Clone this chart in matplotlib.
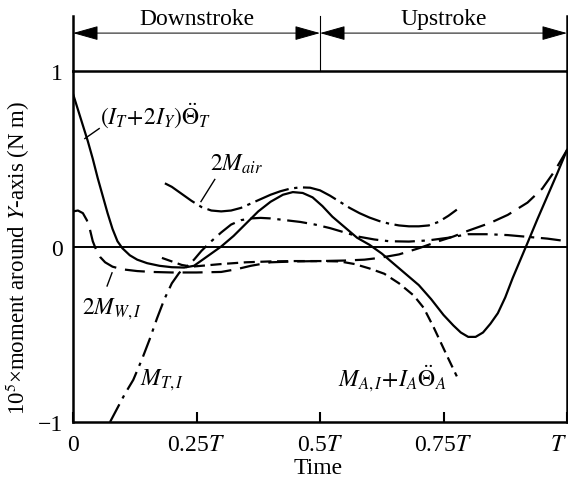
import matplotlib
matplotlib.use("Agg")
import matplotlib.pyplot as plt
from matplotlib.patches import ArrowStyle

plt.rcParams["font.family"] = ["Liberation Serif", "DejaVu Serif"]
plt.rcParams["mathtext.fontset"] = "stix"
plt.rcParams["font.size"] = 17

# Time as a fraction of the stroke period T, moments scaled by 1e5 (N m)
t_total = [0.000, 0.010, 0.020, 0.030, 0.040, 0.050, 0.060, 0.070, 0.080, 0.090,
           0.100, 0.115, 0.130, 0.150, 0.175, 0.200, 0.225, 0.245, 0.265, 0.285,
           0.300, 0.325, 0.350, 0.375, 0.400, 0.425, 0.445, 0.465, 0.485, 0.505,
           0.525, 0.550, 0.575, 0.600, 0.625, 0.650, 0.675, 0.700, 0.725, 0.750,
           0.770, 0.785, 0.800, 0.815, 0.830, 0.845, 0.860, 0.875, 0.890, 0.905,
           0.920, 0.940, 0.960, 0.980, 1.000]
m_total = [0.87, 0.78, 0.69, 0.60, 0.50, 0.39, 0.29, 0.19, 0.10, 0.03,
           -0.01, -0.05, -0.075, -0.095, -0.11, -0.118, -0.12, -0.11, -0.07, -0.03,
           0.00, 0.06, 0.13, 0.20, 0.255, 0.295, 0.31, 0.305, 0.28, 0.23,
           0.17, 0.11, 0.05, 0.01, -0.04, -0.10, -0.16, -0.22, -0.30, -0.39,
           -0.45, -0.49, -0.515, -0.515, -0.49, -0.44, -0.38, -0.29, -0.18, -0.08,
           0.02, 0.155, 0.285, 0.415, 0.55]

t_air = [0.186, 0.20, 0.22, 0.24, 0.26, 0.28, 0.30, 0.32, 0.34, 0.36,
         0.38, 0.40, 0.42, 0.44, 0.46, 0.48, 0.50, 0.52, 0.54, 0.56,
         0.58, 0.60, 0.62, 0.64, 0.66, 0.68, 0.70, 0.72, 0.74, 0.76, 0.777]
m_air = [0.36, 0.34, 0.30, 0.26, 0.225, 0.205, 0.20, 0.205, 0.22, 0.245,
         0.27, 0.295, 0.315, 0.33, 0.337, 0.335, 0.32, 0.29, 0.255, 0.22,
         0.19, 0.165, 0.145, 0.13, 0.12, 0.115, 0.115, 0.12, 0.14, 0.175, 0.21]

t_thorax = [0.075, 0.09, 0.105, 0.122, 0.14, 0.155, 0.17, 0.185, 0.20, 0.215,
            0.23, 0.245, 0.26, 0.28, 0.30, 0.32, 0.34, 0.36, 0.38, 0.40,
            0.43, 0.46, 0.49, 0.52, 0.55, 0.58, 0.61, 0.64, 0.68, 0.72,
            0.76, 0.80, 0.84, 0.88, 0.92, 0.96, 1.00]
m_thorax = [-1.0, -0.92, -0.84, -0.76, -0.64, -0.53, -0.41, -0.30, -0.21, -0.15,
            -0.115, -0.075, -0.025, 0.03, 0.08, 0.125, 0.15, 0.16, 0.163, 0.16,
            0.15, 0.14, 0.125, 0.105, 0.08, 0.055, 0.04, 0.03, 0.028, 0.035,
            0.05, 0.07, 0.07, 0.065, 0.055, 0.045, 0.03]

t_wing = [0.000, 0.010, 0.020, 0.028, 0.034, 0.040, 0.047, 0.055, 0.065, 0.08,
          0.10, 0.13, 0.16, 0.20, 0.25, 0.30, 0.33, 0.36, 0.40, 0.45,
          0.50, 0.55, 0.59, 0.62, 0.66, 0.70, 0.74, 0.77, 0.80, 0.845,
          0.88, 0.92, 0.95, 0.975, 1.00]
m_wing = [0.20, 0.205, 0.19, 0.15, 0.10, 0.03, -0.02, -0.06, -0.09, -0.115,
          -0.13, -0.14, -0.145, -0.148, -0.148, -0.145, -0.13, -0.11, -0.09, -0.085,
          -0.083, -0.08, -0.075, -0.065, -0.045, -0.01, 0.03, 0.057, 0.09, 0.135,
          0.18, 0.25, 0.33, 0.43, 0.55]

t_abdomen = [0.18, 0.20, 0.22, 0.24, 0.26, 0.30, 0.35, 0.40, 0.45, 0.50,
             0.54, 0.57, 0.60, 0.63, 0.66, 0.69, 0.71, 0.73, 0.745, 0.76, 0.777]
m_abdomen = [-0.065, -0.085, -0.105, -0.115, -0.11, -0.10, -0.09, -0.085, -0.083, -0.083,
             -0.085, -0.10, -0.125, -0.155, -0.21, -0.28, -0.35, -0.46, -0.55, -0.64, -0.74]

x_ticks = [0, 0.25, 0.5, 0.75, 1.0]
x_ticklabels = ["0", "0.25$T$", "0.5$T$", "0.75$T$", "$T$"]
y_ticks = [-1, 0, 1]
y_ticklabels = ["\u22121", "0", "1"]

fig = plt.figure(figsize=(5.68, 4.89), dpi=100)
ax = fig.add_axes([73 / 568, 66 / 489, 494 / 568, 351 / 489])
ax.set_xlim(0, 1)
ax.set_ylim(-1, 1)

for s in ax.spines.values():
    s.set_linewidth(1.8)

ax.axhline(0, color="k", lw=1.4, zorder=1)

lw = 1.6
ax.plot(t_total, m_total, color="k", lw=lw)
ax.plot(t_air, m_air, color="k", lw=lw, dashes=(16, 2.5, 1.5, 2.5))
ax.plot(t_thorax, m_thorax, color="k", lw=lw, dashes=(9, 3, 1.5, 3))
ax.plot(t_wing, m_wing, color="k", lw=lw, dashes=(9, 4))
ax.plot(t_abdomen, m_abdomen, color="k", lw=lw, dashes=(5, 2.5))

# curve labels and leader lines
ax.text(0.055, 0.707, r"$(I_T\!+\!2I_Y)\ddot{\Theta}_T$", ha="left", va="baseline")
ax.plot([0.024, 0.053], [0.615, 0.672], color="k", lw=1.0)
ax.text(0.277, 0.44, r"$2M_{air}$", ha="left", va="baseline")
ax.plot([0.287, 0.259], [0.382, 0.256], color="k", lw=1.0)
ax.text(0.018, -0.382, r"$2M_{W,I}$", ha="left", va="baseline")
ax.plot([0.079, 0.069], [-0.15, -0.225], color="k", lw=1.0)
ax.text(0.136, -0.786, r"$M_{T,I}$", ha="left", va="baseline")
ax.text(0.536, -0.79, r"$M_{A,I}\!+\!I_A\ddot{\Theta}_A$", ha="left", va="baseline")

ax.set_xticks(x_ticks)
ax.set_xticklabels(x_ticklabels)
ax.set_yticks(y_ticks)
ax.set_yticklabels(y_ticklabels)
ax.tick_params(axis="x", direction="in", length=7, width=1.5, pad=9)
ax.tick_params(axis="y", length=0, pad=7)
# keep the last period label inside the figure edge
ax.get_xticklabels()[-1].set_horizontalalignment("right")

ax.set_xlabel("Time")
ax.xaxis.set_label_coords(0.496, -0.10)
ax.set_ylabel("10$^5$\u00d7moment around $Y$-axis (N m)", fontsize=16.5)
ax.yaxis.set_label_coords(-0.083, 0.47)

# stroke phase markers above the frame
top = 1.157
for xv, w in [(0.0, 1.8), (0.5, 0.8), (1.0, 1.8)]:
    ax.plot([xv, xv], [1.0, top], transform=ax.transAxes, clip_on=False,
            color="k", lw=w)

arrow_y = 1.108
style = ArrowStyle("<|-|>", head_length=1.6, head_width=0.45)
for x0, x1 in [(0.0, 0.5), (0.5, 1.0)]:
    ax.annotate("", xy=(x1, arrow_y), xytext=(x0, arrow_y),
                xycoords="axes fraction", textcoords="axes fraction",
                arrowprops=dict(arrowstyle=style, mutation_scale=10, color="k",
                                lw=0.7, shrinkA=0, shrinkB=0))

ax.text(0.25, 1.134, "Downstroke", transform=ax.transAxes, ha="center", va="baseline")
ax.text(0.75, 1.134, "Upstroke", transform=ax.transAxes, ha="center", va="baseline")

fig.savefig("out.png", dpi=100)
